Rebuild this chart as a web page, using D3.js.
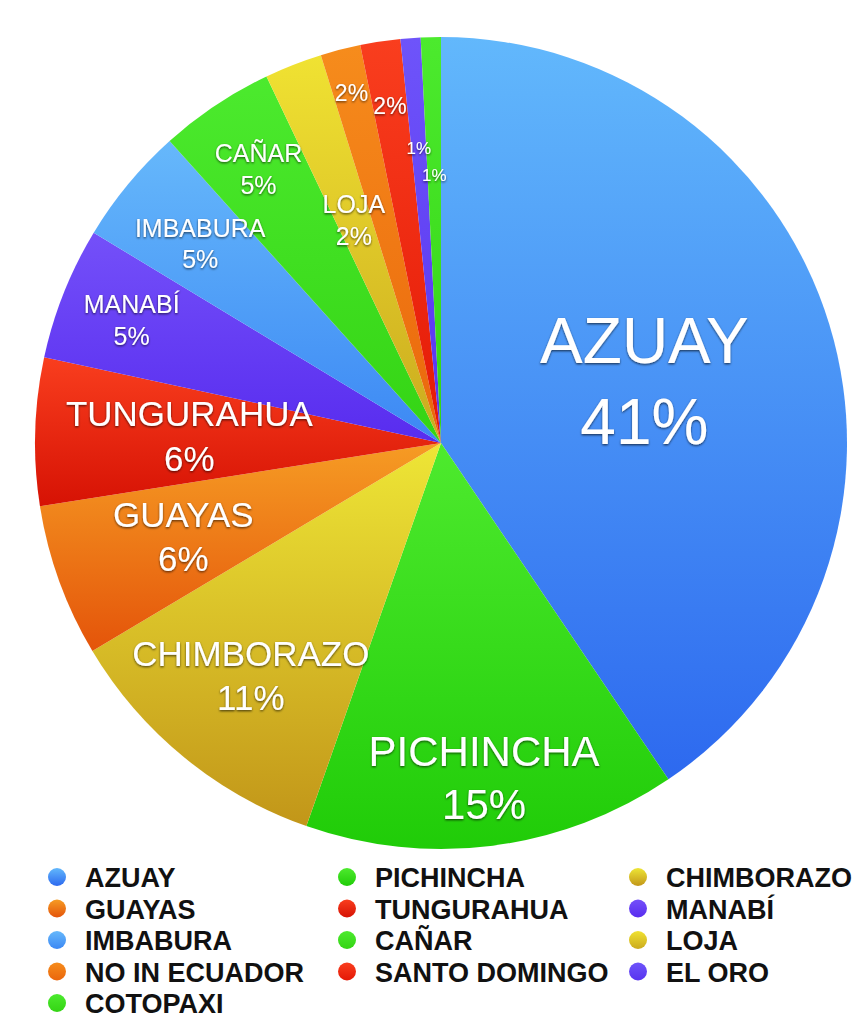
<!DOCTYPE html>
<html>
<head>
<meta charset="utf-8">
<script src="https://cdn.jsdelivr.net/npm/d3@7"></script>
<style>
  html, body { margin: 0; padding: 0; background: #fff; }
  svg { display: block; }
  .sliceLabel { font-family: "Liberation Sans", Arial, sans-serif; fill: #fff; }
  .legendText { font-family: "Liberation Sans", Arial, sans-serif; font-weight: bold; font-size: 27px; fill: #111; }
</style>
</head>
<body>
<svg id="chart" width="855" height="1023"></svg>
<script>
// data, clockwise from 12 o'clock
const provinces = ['AZUAY', 'PICHINCHA', 'CHIMBORAZO', 'GUAYAS', 'TUNGURAHUA', 'MANABÍ', 'IMBABURA',
    'CAÑAR', 'LOJA', 'NO IN ECUADOR', 'SANTO DOMINGO', 'EL ORO', 'COTOPAXI'];
const shares = [40.7, 14.9, 11.1, 6.1, 5.9, 5.3, 4.7, 4.6, 2.3, 1.6, 1.6, 0.8, 0.8];

// styles
const colorTop = ['#62b8fc', '#4eea2e', '#eee636', '#f69c24', '#f93e1e', '#7450f9', '#66b8fb',
    '#4cea2e', '#f0e232', '#f68c1c', '#f93e1e', '#6e54fa', '#4cea2e'];
const colorBottom = ['#2d69ef', '#20cc08', '#c29619', '#e4540a', '#d61204', '#582cef', '#3c88f4',
    '#34d414', '#cbaa1e', '#ea660c', '#e41806', '#5834ef', '#34d414'];
const labelRadius = [0.524, 0.83, 0.74, 0.675, 0.62, 0.82, 0.77, 0.81, 0.59, 0.89, 0.84, 0.73, 0.66];
const labelSize = [64, 42, 35, 35, 35, 25, 25, 25, 25, 23, 23, 17, 17];

function PieChart(svg) {
    this.svg = svg;
    this.cx = 441;
    this.cy = 443;
    this.radius = 406;
    this.rows = provinces.map(function (p, i) {
        return { name: p, value: shares[i], index: i };
    });
}

PieChart.prototype.drawDefs = function () {
    var defs = this.svg.append('defs');
    defs.selectAll('linearGradient')
        .data(this.rows)
        .enter()
        .append('linearGradient')
        .attr('id', function (d) { return 'grad' + d.index })
        .attr('x1', 0).attr('y1', 0).attr('x2', 0).attr('y2', 1)
        .each(function (d) {
            d3.select(this).append('stop').attr('offset', '0%').attr('stop-color', colorTop[d.index]);
            d3.select(this).append('stop').attr('offset', '100%').attr('stop-color', colorBottom[d.index]);
        });
    var shadow = defs.append('filter')
        .attr('id', 'textShadow')
        .attr('x', '-20%').attr('y', '-30%').attr('width', '140%').attr('height', '160%');
    shadow.append('feDropShadow')
        .attr('dx', 0).attr('dy', 1.2)
        .attr('stdDeviation', 1.1)
        .attr('flood-color', '#000')
        .attr('flood-opacity', 0.65);
};

PieChart.prototype.drawSlices = function () {
    var _this = this;
    var total = d3.sum(shares);
    var pie = d3.pie().sort(null).value(function (d) { return d.value });
    var arc = d3.arc().innerRadius(0).outerRadius(_this.radius);
    var arcs = pie(_this.rows);

    var g = _this.svg.append('g')
        .attr('transform', 'translate(' + _this.cx + ',' + _this.cy + ')');

    g.selectAll('path.slice')
        .data(arcs)
        .enter()
        .append('path')
        .attr('class', 'slice')
        .attr('d', arc)
        .attr('fill', function (d) { return 'url(#grad' + d.data.index + ')' });

    var labels = g.selectAll('text.sliceLabel')
        .data(arcs)
        .enter()
        .append('text')
        .attr('class', 'sliceLabel')
        .attr('text-anchor', 'middle')
        .attr('filter', 'url(#textShadow)')
        .style('font-size', function (d) { return labelSize[d.data.index] + 'px' })
        .attr('transform', function (d) {
            var r = _this.radius * labelRadius[d.data.index];
            var c = d3.arc().innerRadius(r).outerRadius(r).centroid(d);
            return 'translate(' + c[0] + ',' + c[1] + ')';
        });

    labels.each(function (d) {
        var t = d3.select(this);
        var f = labelSize[d.data.index];
        var pct = Math.round(d.data.value / total * 100) + '%';
        if (d.data.value >= 2) {
            t.append('tspan').attr('x', 0).attr('y', -0.277 * f).text(d.data.name);
            t.append('tspan').attr('x', 0).attr('y', 0.993 * f).text(pct);
        } else {
            t.append('tspan').attr('x', 0).attr('y', 0.358 * f).text(pct);
        }
    });
};

PieChart.prototype.drawLegend = function () {
    var colX = [57, 347, 638];
    var rowY = d3.scalePoint().domain(d3.range(5)).range([877, 1003]);
    var items = this.svg.append('g').attr('class', 'legend')
        .selectAll('g.item')
        .data(this.rows)
        .enter()
        .append('g')
        .attr('class', 'item')
        .attr('transform', function (d) {
            return 'translate(' + colX[d.index % 3] + ',' + rowY(Math.floor(d.index / 3)) + ')';
        });
    items.append('circle')
        .attr('r', 9)
        .attr('fill', function (d) { return 'url(#grad' + d.index + ')' });
    items.append('text')
        .attr('class', 'legendText')
        .attr('x', 28)
        .attr('y', 10)
        .text(function (d) { return d.name });
};

var chart = new PieChart(d3.select('#chart'));
chart.drawDefs();
chart.drawSlices();
chart.drawLegend();
</script>
</body>
</html>
